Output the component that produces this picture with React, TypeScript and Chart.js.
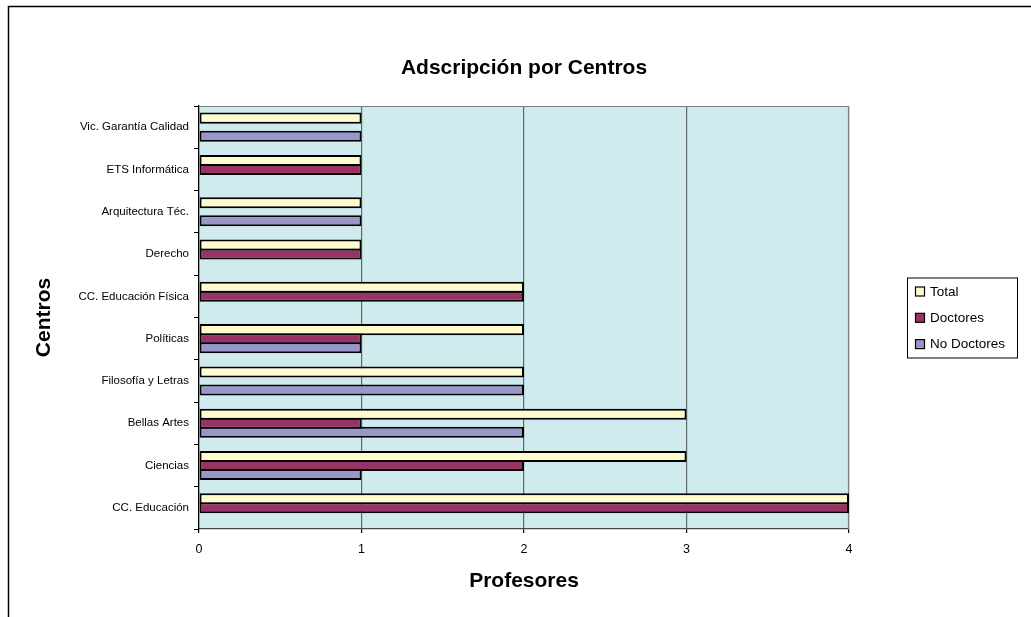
import React, { useEffect, useRef } from 'react';
import { Chart, registerables } from 'chart.js';

Chart.register(...registerables);

const categories = [
  'Vic. Garantía Calidad',
  'ETS Informática',
  'Arquitectura Téc.',
  'Derecho',
  'CC. Educación Física',
  'Políticas',
  'Filosofía y Letras',
  'Bellas Artes',
  'Ciencias',
  'CC. Educación',
];
const totalValues = [1, 1, 1, 1, 2, 2, 2, 3, 3, 4];
const doctoresValues = [0, 1, 0, 1, 2, 1, 0, 1, 2, 4];
const noDoctoresValues = [1, 0, 1, 0, 0, 1, 2, 2, 1, 0];
const seriesNames = ['Total', 'Doctores', 'No Doctores'];
const seriesColors = ['#FFFBCD', '#993366', '#9797CB'];
const xTickValues = [0, 1, 2, 3, 4];

const FONT = '"Liberation Sans", Arial, sans-serif';

const framePlugin = {
  id: 'frame',
  beforeDraw(chart: any) {
    const { ctx, chartArea: a } = chart;
    ctx.save();
    ctx.fillStyle = '#ffffff';
    ctx.fillRect(0, 0, chart.width, chart.height);
    ctx.strokeStyle = '#000000';
    ctx.lineWidth = 1.5;
    ctx.beginPath();
    ctx.moveTo(8.5, chart.height + 5);
    ctx.lineTo(8.5, 6.5);
    ctx.lineTo(chart.width + 5, 6.5);
    ctx.stroke();
    ctx.fillStyle = '#CFEBEE';
    ctx.fillRect(a.left, a.top, a.right - a.left, a.bottom - a.top);
    ctx.restore();
  },
  beforeDatasetsDraw(chart: any) {
    const { ctx, chartArea: a } = chart;
    ctx.save();
    ctx.strokeStyle = '#808080';
    ctx.lineWidth = 1.2;
    ctx.beginPath();
    ctx.moveTo(a.left, a.top + 0.5);
    ctx.lineTo(a.right - 0.5, a.top + 0.5);
    ctx.lineTo(a.right - 0.5, a.bottom);
    ctx.stroke();
    ctx.restore();
  },
};

const boxLegendPlugin = {
  id: 'boxLegend',
  afterDraw(chart: any) {
    const { ctx, chartArea: a } = chart;
    const x = a.right + 58;
    const w = 110;
    const h = 80;
    const cy = (a.top + a.bottom) / 2;
    const y = cy - h / 2;
    ctx.save();
    ctx.fillStyle = '#ffffff';
    ctx.fillRect(x, y, w, h);
    ctx.strokeStyle = '#000000';
    ctx.lineWidth = 1;
    ctx.strokeRect(x + 0.5, y + 0.5, w, h);
    ctx.font = `13.5px ${FONT}`;
    ctx.textBaseline = 'middle';
    ctx.textAlign = 'left';
    chart.data.datasets.forEach((ds: any, i: number) => {
      const ry = y + 14 + i * 26.3;
      ctx.fillStyle = ds.backgroundColor;
      ctx.fillRect(x + 8.5, ry - 4.5, 9, 9);
      ctx.strokeStyle = '#000000';
      ctx.lineWidth = 1.2;
      ctx.strokeRect(x + 8.5, ry - 4.5, 9, 9);
      ctx.fillStyle = '#000000';
      ctx.fillText(ds.label, x + 23, ry + 0.5);
    });
    ctx.restore();
  },
};

export default function App() {
  const canvasRef = useRef<HTMLCanvasElement | null>(null);

  useEffect(() => {
    if (!canvasRef.current) return;
    const seriesValues = [totalValues, doctoresValues, noDoctoresValues];
    const chart = new Chart(canvasRef.current, {
      type: 'bar',
      data: {
        labels: categories,
        datasets: seriesNames.map((name, i) => ({
          label: name,
          data: seriesValues[i],
          backgroundColor: seriesColors[i],
          borderColor: '#000000',
          borderWidth: 2,
          borderSkipped: false,
          inflateAmount: 0,
          categoryPercentage: 0.64,
          barPercentage: 1.22,
        })),
      },
      options: {
        indexAxis: 'y',
        animation: false,
        responsive: false,
        devicePixelRatio: 1,
        layout: { padding: { left: 0, right: 182, top: 0, bottom: 0 } },
        plugins: {
          legend: { display: false },
          tooltip: { enabled: false },
          title: {
            display: true,
            text: 'Adscripción por Centros',
            fullSize: false,
            color: '#000000',
            font: { family: FONT, size: 21, weight: 'bold' },
            padding: { top: 55.4, bottom: 25.4 },
          },
        },
        scales: {
          x: {
            type: 'linear',
            min: 0,
            max: 4,
            afterBuildTicks: (scale: any) => {
              scale.ticks = xTickValues.map((v) => ({ value: v }));
            },
            afterFit: (scale: any) => {
              scale.height = 88;
            },
            grid: {
              color: '#5E6A6A',
              lineWidth: 1.2,
              tickLength: 4,
              tickColor: '#000000',
              drawTicks: true,
            },
            border: { color: '#444444', width: 1.2 },
            ticks: {
              color: '#000000',
              font: { family: FONT, size: 12.5 },
              padding: 9,
            },
            title: {
              display: true,
              text: 'Profesores',
              color: '#000000',
              font: { family: FONT, size: 21, weight: 'bold' },
              padding: { top: 0, bottom: 23.4 },
            },
          },
          y: {
            type: 'category',
            afterFit: (scale: any) => {
              scale.width = 199;
            },
            grid: {
              offset: true,
              drawOnChartArea: false,
              drawTicks: true,
              tickLength: 5,
              tickColor: '#000000',
            },
            border: { color: '#000000', width: 1.2 },
            ticks: {
              color: '#000000',
              font: { family: FONT, size: 11.5 },
              padding: 5,
              autoSkip: false,
            },
            title: {
              display: true,
              text: 'Centros',
              color: '#000000',
              font: { family: FONT, size: 21, weight: 'bold' },
              padding: { top: 31.4, bottom: 0 },
            },
          },
        },
      },
      plugins: [framePlugin, boxLegendPlugin],
    } as any);
    return () => chart.destroy();
  }, []);

  return (
    <div style={{ position: 'fixed', left: 0, top: 0, width: 1031, height: 617, overflow: 'hidden', background: '#fff' }}>
      <canvas ref={canvasRef} width={1031} height={617} style={{ display: 'block', width: 1031, height: 617 }} />
    </div>
  );
}
